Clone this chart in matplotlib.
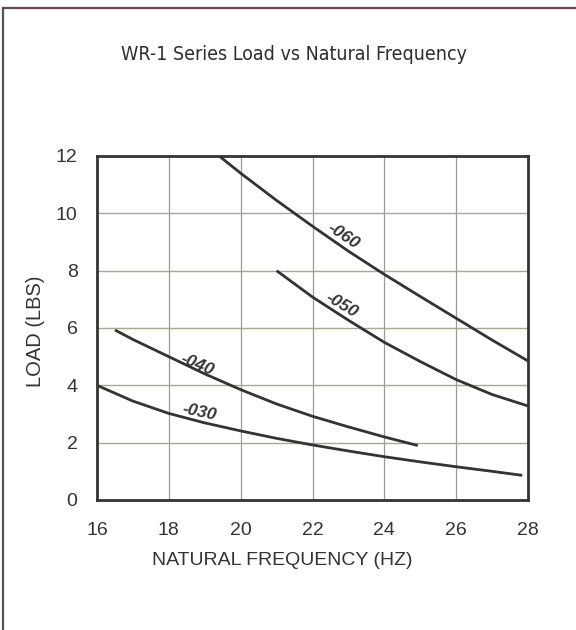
import matplotlib.pyplot as plt
from matplotlib.lines import Line2D

# values
freq_060 = [19.4, 20, 21, 22, 23, 24, 25, 26, 27, 28]
load_060 = [12.0, 11.4, 10.45, 9.55, 8.68, 7.87, 7.1, 6.34, 5.58, 4.85]

freq_050 = [21, 22, 23, 24, 25, 26, 27, 28]
load_050 = [8.0, 7.08, 6.27, 5.5, 4.83, 4.2, 3.68, 3.28]

freq_040 = [16.5, 17, 18, 19, 20, 21, 22, 23, 24, 24.93]
load_040 = [5.93, 5.6, 5.0, 4.4, 3.85, 3.35, 2.92, 2.55, 2.2, 1.9]

freq_030 = [16, 17, 18, 19, 20, 21, 22, 23, 24, 25, 26, 27, 27.84]
load_030 = [4.0, 3.45, 3.02, 2.69, 2.41, 2.15, 1.92, 1.71, 1.51, 1.33, 1.16, 1.0, 0.86]

series = [
    ('-060', freq_060, load_060, (22.85, 9.2), -34),
    ('-050', freq_050, load_050, (22.8, 6.8), -31),
    ('-040', freq_040, load_040, (18.8, 4.72), -23),
    ('-030', freq_030, load_030, (18.85, 3.05), -12),
]

x_ticks = [16, 18, 20, 22, 24, 26, 28]
y_ticks = [0, 2, 4, 6, 8, 10, 12]

ink = '#333333'


def main():
    plt.rcParams['font.family'] = ['Liberation Sans', 'DejaVu Sans']
    fig = plt.figure(figsize=(5.76, 6.3), dpi=100)
    ax = fig.add_axes([97 / 576, 130 / 630, 431 / 576, 344 / 630])

    for name, fx, ly, pos, rot in series:
        ax.plot(fx, ly, color=ink, linewidth=2, solid_capstyle='butt')
        ax.text(pos[0], pos[1], name, rotation=rot, ha='center', va='center',
                fontsize=12.5, fontweight='bold', fontstyle='italic', color=ink)

    ax.set_xlim(16, 28)
    ax.set_ylim(0, 12)
    ax.set_xticks(x_ticks)
    ax.set_yticks(y_ticks)
    ax.tick_params(length=0, labelsize=14, labelcolor=ink)
    ax.tick_params(axis='y', pad=14)
    ax.tick_params(axis='x', pad=16)

    for x in x_ticks[1:-1]:
        ax.axvline(x, color='#9a9a9a', linewidth=0.9, zorder=0)
    for y in y_ticks[1:-1]:
        ax.axhline(y, color='#a9a78e', linewidth=1.0, zorder=0)

    for side in ax.spines.values():
        side.set_color(ink)
        side.set_linewidth(2)

    ax.set_xlabel('NATURAL FREQUENCY (HZ)', fontsize=14, color=ink)
    ax.xaxis.set_label_coords(0.43, -0.15)
    ax.set_ylabel('LOAD (LBS)', fontsize=14.5, color=ink)
    ax.yaxis.set_label_coords(-0.12, 0.49)

    fig.text(0.51, 1 - 55 / 630, 'WR-1 Series Load vs Natural Frequency',
             ha='center', va='center', fontsize=14, color='#2e2e2e',
             family='DejaVu Sans', fontstretch='condensed')

    # scanned page frame: only top and left edges are visible
    fig.add_artist(Line2D([3 / 576, 1], [1 - 7.5 / 630, 1 - 7.5 / 630],
                          transform=fig.transFigure, color='#6b4a44', linewidth=1.6))
    fig.add_artist(Line2D([3 / 576, 3 / 576], [0, 1 - 7.5 / 630],
                          transform=fig.transFigure, color='#555555', linewidth=1.6))

    fig.savefig('out.png', dpi=100)


if __name__ == "__main__":
    main()
